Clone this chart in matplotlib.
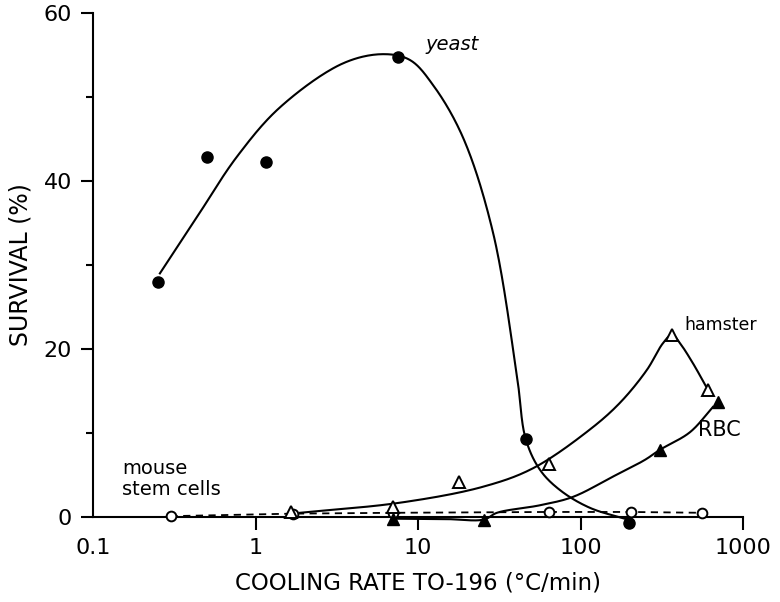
import numpy as np
import matplotlib
matplotlib.use("Agg")
import matplotlib.pyplot as plt

# ---- data ----
yeast_x = [0.25, 0.50, 1.16, 7.5, 46, 200]
yeast_y = [28.0, 42.9, 42.3, 54.8, 9.3, -0.7]

hamster_x = [1.65, 7.0, 18.0, 64, 366, 605]
hamster_y = [0.6, 1.2, 4.2, 6.3, 21.7, 15.1]

rbc_x = [7.0, 25.5, 308, 700]
rbc_y = [-0.2, -0.3, 8.0, 13.7]

mouse_x = [0.30, 1.7, 7.0, 64, 204, 560]
mouse_y = [0.1, 0.4, 0.5, 0.6, 0.6, 0.5]

# fitted (hand-drawn) curves
yeast_curve_x = [0.258, 0.436, 0.769, 1.42, 3.45, 6.09, 8.93, 12.4, 18.9,
                 29.0, 40.7, 46.0, 56.4, 74.8, 114, 195]
yeast_curve_y = [29.0, 35.7, 42.9, 48.8, 54.0, 55.1, 54.4, 51.4, 45.2,
                 33.8, 16.7, 9.3, 5.6, 3.2, 1.1, -0.3]

hamster_curve_x = [1.88, 7.74, 25.1, 51, 114, 175, 256, 322, 366,
                   409, 492, 590]
hamster_curve_y = [0.5, 1.7, 3.6, 5.8, 10.4, 13.6, 17.5, 20.7, 21.7,
                   20.7, 18.3, 15.6]

rbc_curve_x = [7.0, 15, 25.5, 30.6, 56.4, 90, 158, 249, 308, 472, 653]
rbc_curve_y = [-0.2, -0.25, -0.3, 0.5, 1.4, 2.4, 4.8, 6.8, 8.0, 10.1, 13.1]

y_ticks = [0, 20, 40, 60]
x_ticks = [0.1, 1, 10, 100, 1000]
x_ticklabels = ["0.1", "1", "10", "100", "1000"]

# approximate display scaling (pixels per decade / per % unit) for parametrisation
SX, SY = 162.5, 8.4


def smooth(xs, ys, n=30):
    """Centripetal Catmull-Rom spline through points in (log10 x, y) space."""
    P = np.column_stack([np.log10(np.asarray(xs, float)) * SX,
                         np.asarray(ys, float) * SY])
    P = np.vstack([2 * P[0] - P[1], P, 2 * P[-1] - P[-2]])
    out = []
    for i in range(1, len(P) - 2):
        p0, p1, p2, p3 = P[i - 1], P[i], P[i + 1], P[i + 2]
        t0 = 0.0
        t1 = t0 + max(np.linalg.norm(p1 - p0), 1e-6) ** 0.5
        t2 = t1 + max(np.linalg.norm(p2 - p1), 1e-6) ** 0.5
        t3 = t2 + max(np.linalg.norm(p3 - p2), 1e-6) ** 0.5
        t = np.linspace(t1, t2, n, endpoint=False)[:, None]
        a1 = (t1 - t) / (t1 - t0) * p0 + (t - t0) / (t1 - t0) * p1
        a2 = (t2 - t) / (t2 - t1) * p1 + (t - t1) / (t2 - t1) * p2
        a3 = (t3 - t) / (t3 - t2) * p2 + (t - t2) / (t3 - t2) * p3
        b1 = (t2 - t) / (t2 - t0) * a1 + (t - t0) / (t2 - t0) * a2
        b2 = (t3 - t) / (t3 - t1) * a2 + (t - t1) / (t3 - t1) * a3
        c = (t2 - t) / (t2 - t1) * b1 + (t - t1) / (t2 - t1) * b2
        out.append(c)
    out.append(P[-2][None, :])
    out = np.vstack(out)
    return 10 ** (out[:, 0] / SX), out[:, 1] / SY


plt.rcParams['font.family'] = ['DejaVu Sans']
fig = plt.figure(figsize=(7.8, 6.02), dpi=100)
ax = fig.add_axes([93 / 780, 85 / 602, 650 / 780, 504 / 602])
ax.set_xscale('log')
ax.set_xlim(0.1, 1000)
ax.set_ylim(0, 60)

lw = 1.5
# curves
for cxs, cys in [(yeast_curve_x, yeast_curve_y),
                 (hamster_curve_x, hamster_curve_y),
                 (rbc_curve_x, rbc_curve_y)]:
    cx, cy = smooth(cxs, cys)
    ax.plot(cx, cy, color='black', lw=lw, clip_on=False, zorder=2)
ax.plot(mouse_x, mouse_y, color='black', lw=1.3, ls=(0, (4, 3)), clip_on=False, zorder=2)

# markers
ax.plot(mouse_x, mouse_y, ls='none', marker='o', ms=7, mfc='white', mec='black',
        mew=1.4, clip_on=False, zorder=3)
ax.plot(hamster_x, hamster_y, ls='none', marker='^', ms=9, mfc='white', mec='black',
        mew=1.4, clip_on=False, zorder=4)
ax.plot(rbc_x, rbc_y, ls='none', marker='^', ms=9, mfc='black', mec='black',
        clip_on=False, zorder=4)
ax.plot(yeast_x, yeast_y, ls='none', marker='o', ms=8, mfc='black', mec='black',
        clip_on=False, zorder=5)

# spines / ticks
for s in ['top', 'right']:
    ax.spines[s].set_visible(False)
for s in ['left', 'bottom']:
    ax.spines[s].set_linewidth(1.5)
ax.set_yticks(y_ticks)
ax.set_yticks([10, 30, 50], minor=True)
ax.set_xticks(x_ticks)
ax.set_xticklabels(x_ticklabels)
ax.xaxis.set_minor_locator(matplotlib.ticker.NullLocator())
ax.tick_params(axis='both', which='major', direction='out', length=9, width=1.5,
               labelsize=16, pad=6)
ax.tick_params(axis='y', which='minor', direction='out', length=5, width=1.5)
ax.xaxis.get_major_ticks()[0].tick1line.set_visible(False)

ax.set_xlabel("COOLING RATE TO-196 (°C/min)", fontsize=16.5, labelpad=10)
ax.set_ylabel("SURVIVAL (%)", fontsize=17, labelpad=8)

# annotations
ax.text(425 / 780, 1 - 45 / 602, "yeast", transform=fig.transFigure, fontsize=14,
        style='italic', va='center', ha='left')
ax.text(684 / 780, 1 - 325 / 602, "hamster", transform=fig.transFigure, fontsize=12.5,
        va='center', ha='left')
ax.text(698 / 780, 1 - 430 / 602, "RBC", transform=fig.transFigure, fontsize=15,
        va='center', ha='left')
ax.text(122 / 780, 1 - 479 / 602, "mouse\nstem cells", transform=fig.transFigure,
        fontsize=14, va='center', ha='left', linespacing=1.1)

fig.savefig("out.png", dpi=100)
